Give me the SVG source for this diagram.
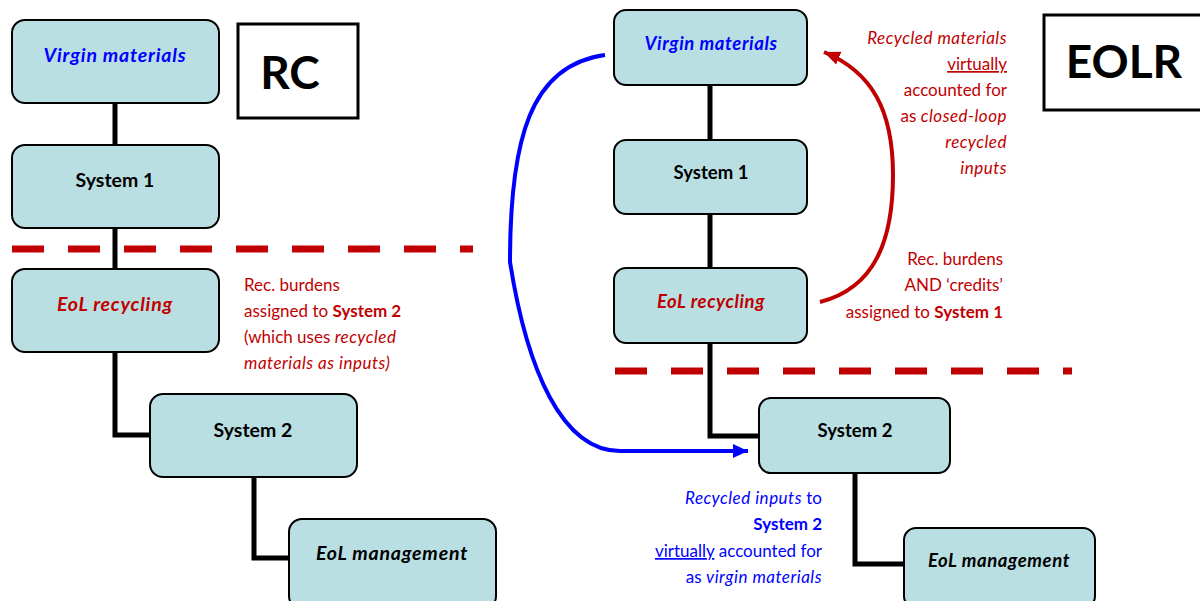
<svg xmlns="http://www.w3.org/2000/svg" width="1200" height="601" viewBox="0 0 1200 601">
<style>
.box{fill:#b9dfe2;stroke:#000;stroke-width:2}
.lbl{font-family:Lato,"Liberation Sans",sans-serif;font-weight:bold;font-size:19.5px;text-anchor:middle}
.lblr{font-family:Lato,"Liberation Sans",sans-serif;font-weight:bold;font-size:18.5px;text-anchor:middle}
.lbl.it{font-style:italic;letter-spacing:0.8px}
.lblr.it{font-style:italic;letter-spacing:0.6px}
.conn{fill:none;stroke:#000;stroke-width:5}
.dash{fill:none;stroke:#c00000;stroke-width:7;stroke-dasharray:32 24}
.note{font-family:Lato,"Liberation Sans",sans-serif;font-size:17px}
.ni{font-style:italic;letter-spacing:0.5px}
.red{fill:#c00000}
.blue{fill:#0000ff}
.title{font-family:Lato,"Liberation Sans",sans-serif;font-weight:bold;font-size:46px;text-anchor:middle}
.frame{fill:#fff;stroke:#000;stroke-width:3}
</style>
<defs>
<marker id="ahBlue" markerUnits="userSpaceOnUse" markerWidth="16" markerHeight="16" refX="15" refY="8" orient="auto" viewBox="0 0 16 16">
<path d="M0,1 L15,8 L0,15 Z" fill="#0000ff"/>
</marker>
<marker id="ahRed" markerUnits="userSpaceOnUse" markerWidth="18" markerHeight="18" refX="16" refY="8" orient="auto" viewBox="0 0 18 16">
<path d="M0,1 L16,8 L0,15 Z" fill="#c00000"/>
</marker>
</defs>
<rect width="1200" height="601" fill="#fff"/>

<g id="connectors">
<path class="conn" d="M115,103 V145"/>
<path class="conn" d="M115,228 V269"/>
<path class="conn" d="M115,352 V435 H150"/>
<path class="conn" d="M254,477 V558 H289"/>
<path class="conn" d="M710,85 V140"/>
<path class="conn" d="M710,214 V268"/>
<path class="conn" d="M710,343 V436 H759"/>
<path class="conn" d="M855,473 V564 H904"/>
<path class="dash" d="M12,249 H473"/>
<path class="dash" d="M615,371 H1072"/>
<path id="blueArrow" fill="none" stroke="#0000ff" stroke-width="4" d="M605,55 C530,65 510,140 510,262 C527,370 562,451 620,451 L748,451" marker-end="url(#ahBlue)"/>
<path id="redArrow" fill="none" stroke="#c00000" stroke-width="4" d="M820,302 C875,288 893,240 893,175 C893,110 872,72 824,52" marker-end="url(#ahRed)"/>
</g>

<g id="rc-label">
<rect class="frame" x="238" y="24" width="120" height="94"/>
<text class="title" x="290" y="89">RC</text>
</g>
<g id="eolr-label">
<rect class="frame" x="1044" y="15" width="170" height="95"/>
<text class="title" x="1124" y="78">EOLR</text>
</g>

<g id="rc-virgin">
<rect class="box" x="12" y="20" width="207" height="83" rx="13"/>
<text class="lbl it blue" x="115" y="62">Virgin materials</text>
</g>
<g id="rc-system1">
<rect class="box" x="12" y="145" width="207" height="83" rx="13"/>
<text class="lbl" x="115" y="187">System 1</text>
</g>
<g id="rc-eolrec">
<rect class="box" x="12" y="269" width="207" height="83" rx="13"/>
<text class="lbl it red" x="115" y="311">EoL recycling</text>
</g>
<g id="rc-system2">
<rect class="box" x="150" y="394" width="207" height="83" rx="13"/>
<text class="lbl" x="253" y="437">System 2</text>
</g>
<g id="rc-eolmgmt">
<rect class="box" x="289" y="519" width="207" height="90" rx="13"/>
<text class="lbl it" x="392" y="560">EoL management</text>
</g>

<g id="eolr-virgin">
<rect class="box" x="614" y="10" width="193" height="75" rx="12"/>
<text class="lblr it blue" x="711" y="50">Virgin materials</text>
</g>
<g id="eolr-system1">
<rect class="box" x="614" y="140" width="193" height="74" rx="12"/>
<text class="lblr" x="711" y="179">System 1</text>
</g>
<g id="eolr-eolrec">
<rect class="box" x="614" y="268" width="193" height="75" rx="12"/>
<text class="lblr it red" x="711" y="308">EoL recycling</text>
</g>
<g id="eolr-system2">
<rect class="box" x="759" y="398" width="191" height="75" rx="12"/>
<text class="lblr" x="855" y="437">System 2</text>
</g>
<g id="eolr-eolmgmt">
<rect class="box" x="904" y="528" width="191" height="80" rx="12"/>
<text class="lblr it" x="999" y="567">EoL management</text>
</g>

<g id="rc-note" class="note red">
<text x="244" y="291">Rec. burdens</text>
<text x="244" y="317">assigned to <tspan font-weight="bold">System 2</tspan></text>
<text x="244" y="343">(which uses <tspan class="ni">recycled</tspan></text>
<text x="244" y="369" class="ni">materials as inputs)</text>
</g>

<g id="eolr-note-top" class="note red" text-anchor="end">
<text x="1007" y="44" class="ni">Recycled materials</text>
<text x="1007" y="70" text-decoration="underline">virtually</text>
<text x="1007" y="96">accounted for</text>
<text x="1007" y="122">as <tspan class="ni">closed-loop</tspan></text>
<text x="1007" y="148" class="ni">recycled</text>
<text x="1007" y="174" class="ni">inputs</text>
</g>

<g id="eolr-note-mid" class="note red" text-anchor="end">
<text x="1003" y="265">Rec. burdens</text>
<text x="1003" y="291">AND ‘credits’</text>
<text x="1003" y="318">assigned to <tspan font-weight="bold">System 1</tspan></text>
</g>

<g id="eolr-note-bottom" class="note blue" text-anchor="end">
<text x="822" y="504"><tspan class="ni">Recycled inputs</tspan> to</text>
<text x="822" y="530" font-weight="bold">System 2</text>
<text x="822" y="557"><tspan text-decoration="underline">virtually</tspan> accounted for</text>
<text x="822" y="583">as <tspan class="ni">virgin materials</tspan></text>
</g>
</svg>
